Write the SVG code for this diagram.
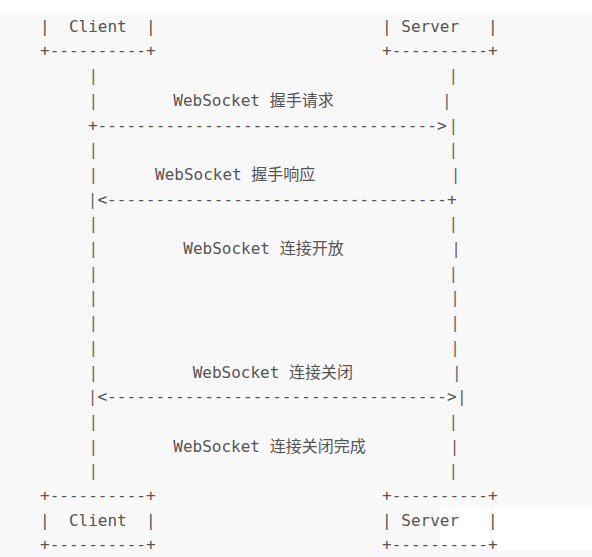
<svg xmlns="http://www.w3.org/2000/svg" width="592" height="557" viewBox="0 0 592 557">
<style>
text{font-family:"DejaVu Sans Mono","Noto Sans CJK SC",monospace;font-size:16px;fill:#555;white-space:pre}
.c{text-anchor:middle}
.ll{fill:#666}
</style>
<rect x="0" y="0" width="592" height="557" fill="#ffffff"/>
<rect x="0" y="15" width="592" height="542" fill="#f8f8f8"/>
<rect x="440" y="507" width="50" height="41" fill="#ffffff"/>
<rect x="493" y="507" width="99" height="43" fill="#ffffff"/>

<g id="client-top">
<text x="40" y="31.7">|  Client  |</text>
<text x="40" y="56.4">+----------+</text>
</g>
<g id="server-top">
<text x="382" y="31.7">| Server   |</text>
<text x="382" y="56.4">+----------+</text>
</g>

<g id="client-lifeline">
<text class="c ll" x="93.3" y="81.1">|</text>
<text class="c ll" x="93.3" y="105.8">|</text>
<text class="c ll" x="93.3" y="155.2">|</text>
<text class="c ll" x="93.3" y="179.9">|</text>
<text class="c ll" x="93.3" y="229.3">|</text>
<text class="c ll" x="93.3" y="254.0">|</text>
<text class="c ll" x="93.3" y="278.7">|</text>
<text class="c ll" x="93.3" y="303.4">|</text>
<text class="c ll" x="93.3" y="328.1">|</text>
<text class="c ll" x="93.3" y="352.8">|</text>
<text class="c ll" x="93.3" y="377.5">|</text>
<text class="c ll" x="93.3" y="426.9">|</text>
<text class="c ll" x="93.3" y="451.6">|</text>
<text class="c ll" x="93.3" y="476.3">|</text>
</g>

<g id="server-lifeline">
<text class="c ll" x="453.3" y="81.1">|</text>
<text class="c ll" x="446.7" y="105.8">|</text>
<text class="c ll" x="453.3" y="155.2">|</text>
<text class="c ll" x="455.5" y="179.9">|</text>
<text class="c ll" x="453.3" y="229.3">|</text>
<text class="c ll" x="456" y="254.0">|</text>
<text class="c ll" x="453.3" y="278.7">|</text>
<text class="c ll" x="455" y="303.4">|</text>
<text class="c ll" x="455" y="328.1">|</text>
<text class="c ll" x="455" y="352.8">|</text>
<text class="c ll" x="456.7" y="377.5">|</text>
<text class="c ll" x="453.3" y="426.9">|</text>
<text class="c ll" x="454.5" y="451.6">|</text>
<text class="c ll" x="453.3" y="476.3">|</text>
</g>

<g id="connectors">
<g id="handshake-request">
<text class="c" x="92.7" y="130.5">+</text>
<text x="97.5" y="130.5" textLength="339.4" lengthAdjust="spacing">-----------------------------------</text>
<text class="c" x="441.7" y="130.5">&gt;</text>
<text class="c ll" x="453.3" y="130.5">|</text>
</g>
<g id="handshake-response">
<text class="c ll" x="92.5" y="204.6">|</text>
<text class="c" x="102.2" y="204.6">&lt;</text>
<text x="107" y="204.6" textLength="339.9" lengthAdjust="spacing">-----------------------------------</text>
<text class="c" x="451.7" y="204.6">+</text>
</g>
<g id="close-exchange">
<text class="c ll" x="92.5" y="402.2">|</text>
<text class="c" x="102.2" y="402.2">&lt;</text>
<text x="107" y="402.2" textLength="339.9" lengthAdjust="spacing">-----------------------------------</text>
<text class="c" x="451.7" y="402.2">&gt;</text>
<text class="c ll" x="461.7" y="402.2">|</text>
</g>
</g>

<g id="labels">
<text id="label-handshake-request" x="173.3" y="105.8">WebSocket 握手请求</text>
<text id="label-handshake-response" x="155" y="179.9">WebSocket 握手响应</text>
<text id="label-open" x="183.3" y="254.0">WebSocket 连接开放</text>
<text id="label-close" x="192.7" y="377.5">WebSocket 连接关闭</text>
<text id="label-close-done" x="173.3" y="451.6">WebSocket 连接关闭完成</text>
</g>

<g id="client-bottom">
<text x="40" y="501.0">+----------+</text>
<text x="40" y="525.7">|  Client  |</text>
<text x="40" y="550.4">+----------+</text>
</g>
<g id="server-bottom">
<text x="382" y="501.0">+----------+</text>
<text x="382" y="525.7">| Server   |</text>
<text x="382" y="550.4">+----------+</text>
</g>
</svg>
